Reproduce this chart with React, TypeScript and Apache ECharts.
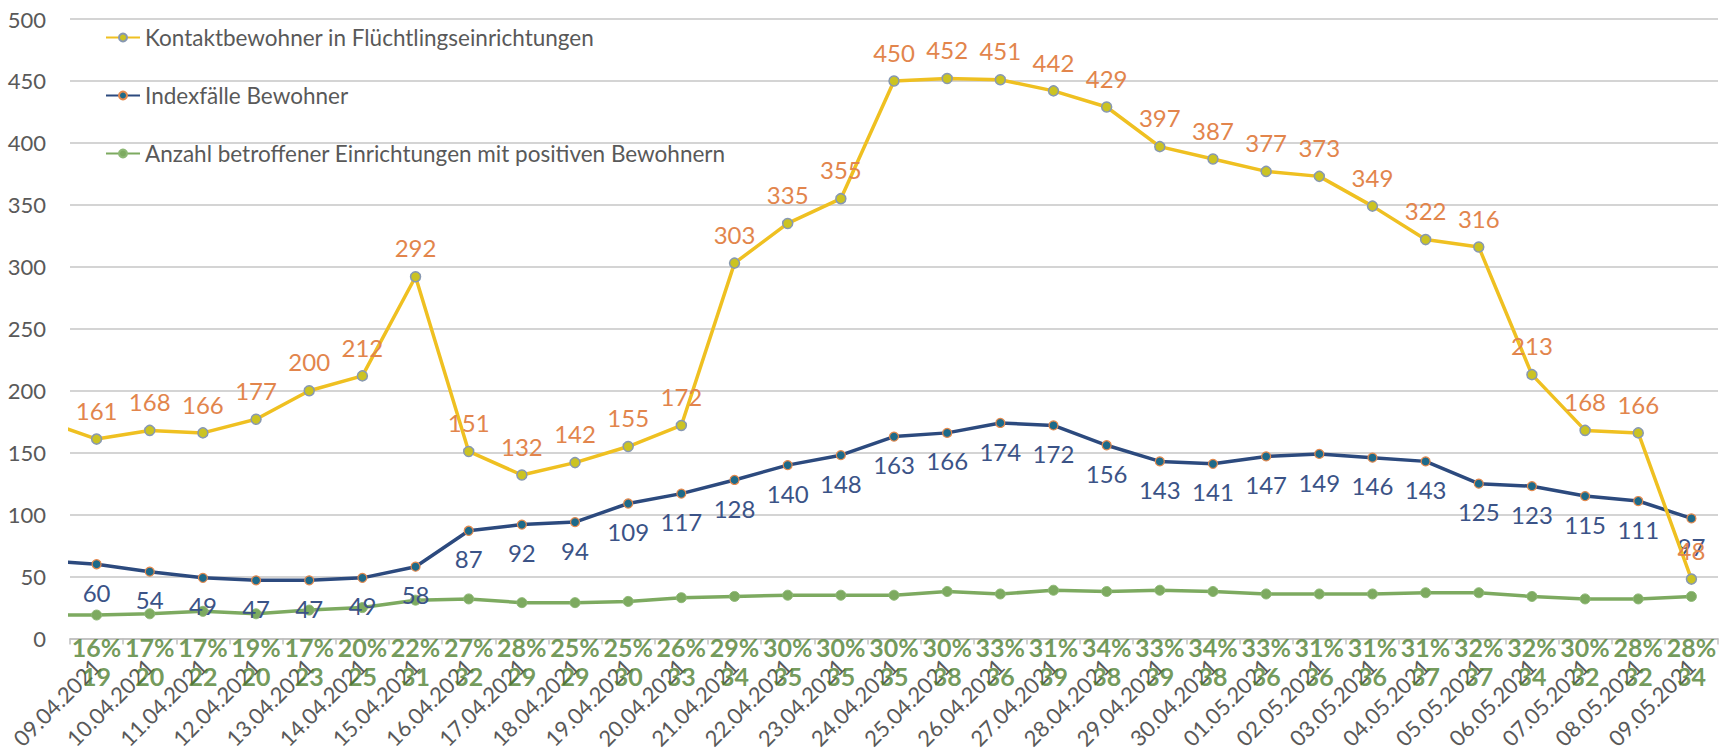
import React, { useEffect, useRef } from "react";
import * as echarts from "echarts";

const dates = [
  "09.04.2021", "10.04.2021", "11.04.2021", "12.04.2021", "13.04.2021", "14.04.2021",
  "15.04.2021", "16.04.2021", "17.04.2021", "18.04.2021", "19.04.2021", "20.04.2021",
  "21.04.2021", "22.04.2021", "23.04.2021", "24.04.2021", "25.04.2021", "26.04.2021",
  "27.04.2021", "28.04.2021", "29.04.2021", "30.04.2021", "01.05.2021", "02.05.2021",
  "03.05.2021", "04.05.2021", "05.05.2021", "06.05.2021", "07.05.2021", "08.05.2021",
  "09.05.2021",
];

const kontakt = [161, 168, 166, 177, 200, 212, 292, 151, 132, 142, 155, 172, 303, 335, 355, 450, 452, 451, 442, 429, 397, 387, 377, 373, 349, 322, 316, 213, 168, 166, 48];
const indexfaelle = [60, 54, 49, 47, 47, 49, 58, 87, 92, 94, 109, 117, 128, 140, 148, 163, 166, 174, 172, 156, 143, 141, 147, 149, 146, 143, 125, 123, 115, 111, 97];
const einrichtungen = [19, 20, 22, 20, 23, 25, 31, 32, 29, 29, 30, 33, 34, 35, 35, 35, 38, 36, 39, 38, 39, 38, 36, 36, 36, 37, 37, 34, 32, 32, 34];
const prozent = [16, 17, 17, 19, 17, 20, 22, 27, 28, 25, 25, 26, 29, 30, 30, 30, 30, 33, 31, 34, 33, 34, 33, 31, 31, 31, 32, 32, 30, 28, 28];

// values of the day before the first shown date (08.04.2021), cut off by the axis
const kontaktPrev = 176;
const indexPrev = 63;
const einrPrev = 19;

const yTicks = { min: 0, max: 500, interval: 50 };

const seriesNames = [
  "Kontaktbewohner in Flüchtlingseinrichtungen",
  "Indexfälle Bewohner",
  "Anzahl betroffener Einrichtungen mit positiven Bewohnern",
];

const FONT = "Lato";
const GREEN_TEXT = "#4F7F30";

function withLead(prev: number, vals: number[]) {
  const out: any[] = [{ value: [-1, prev], symbol: "none", label: { show: false } }];
  vals.forEach((v, i) => out.push([i, v]));
  return out;
}

export default function App() {
  const ref = useRef<HTMLDivElement>(null);
  useEffect(() => {
    if (!ref.current) return;
    const chart = echarts.init(ref.current, null, { renderer: "svg" });
    chart.setOption({
      animation: false,
      backgroundColor: "#ffffff",
      textStyle: { fontFamily: FONT },
      grid: { left: 70, right: 5, top: 19, bottom: 109, containLabel: false },
      legend: {
        orient: "vertical",
        left: 100,
        top: 21,
        itemGap: 35,
        itemWidth: 34,
        itemHeight: 10,
        textStyle: { fontFamily: FONT, fontSize: 22.5, color: "#595959" },
        data: seriesNames,
      },
      xAxis: [
        {
          type: "category",
          data: dates,
          boundaryGap: true,
          z: 0,
          axisLine: { show: true, lineStyle: { color: "#BFBFBF", width: 1.5 } },
          axisTick: { show: true, length: 6, lineStyle: { color: "#BFBFBF", width: 1.5 } },
          axisLabel: {
            interval: 0,
            rotate: 45,
            margin: 24,
            color: "#595959",
            fontSize: 22,
            fontFamily: FONT,
          },
          splitLine: { show: false },
        },
        {
          type: "value",
          min: -0.5,
          max: 30.5,
          show: false,
          splitLine: { show: false },
        },
      ],
      yAxis: {
        type: "value",
        min: yTicks.min,
        max: yTicks.max,
        interval: yTicks.interval,
        axisLine: { show: false },
        axisTick: { show: false },
        axisLabel: { color: "#595959", fontSize: 22, fontFamily: FONT, margin: 24 },
        splitLine: { lineStyle: { color: "#C6C6C6", width: 1.5 } },
      },
      series: [
        {
          name: seriesNames[0],
          type: "line",
          xAxisIndex: 1,
          z: 5,
          data: withLead(kontaktPrev, kontakt),
          symbol: "circle",
          symbolSize: 10,
          clip: true,
          lineStyle: { color: "#EFC021", width: 3.5 },
          itemStyle: { color: "#CBC322", borderColor: "#8798B2", borderWidth: 1.5 },
          label: {
            show: true,
            position: "top",
            distance: 11,
            color: "#E2854C",
            fontSize: 24,
            fontFamily: FONT,
            formatter: (p: any) => String(p.value[1]),
          },
        },
        {
          name: seriesNames[1],
          type: "line",
          xAxisIndex: 1,
          z: 4,
          data: withLead(indexPrev, indexfaelle),
          symbol: "circle",
          symbolSize: 9,
          clip: true,
          lineStyle: { color: "#2C4A7E", width: 3.5 },
          itemStyle: { color: "#1D6A8A", borderColor: "#E3894E", borderWidth: 1.2 },
          label: {
            show: true,
            position: "bottom",
            distance: 11,
            color: "#3B5387",
            fontSize: 24,
            fontFamily: FONT,
            formatter: (p: any) => String(p.value[1]),
          },
        },
        {
          name: seriesNames[2],
          type: "line",
          xAxisIndex: 1,
          z: 3,
          data: withLead(einrPrev, einrichtungen),
          symbol: "circle",
          symbolSize: 10,
          clip: true,
          lineStyle: { color: "#7DAA60", width: 3.5 },
          itemStyle: { color: "#7DAA60", borderColor: "#8DB874", borderWidth: 1 },
          label: { show: false },
        },
        {
          name: "prozent",
          type: "scatter",
          xAxisIndex: 0,
          z: 10,
          clip: false,
          silent: true,
          symbolSize: 1,
          itemStyle: { color: "rgba(0,0,0,0)" },
          data: prozent.map(() => 0),
          label: {
            show: true,
            position: "inside",
            offset: [0, 8],
            color: GREEN_TEXT,
            fontWeight: "bold",
            fontSize: 25,
            fontFamily: FONT,
            formatter: (p: any) => prozent[p.dataIndex] + "%",
          },
        },
        {
          name: "anzahl",
          type: "scatter",
          xAxisIndex: 0,
          z: 10,
          clip: false,
          silent: true,
          symbolSize: 1,
          itemStyle: { color: "rgba(0,0,0,0)" },
          data: einrichtungen.map(() => 0),
          label: {
            show: true,
            position: "inside",
            offset: [0, 37],
            color: GREEN_TEXT,
            fontWeight: "bold",
            fontSize: 25,
            fontFamily: FONT,
            formatter: (p: any) => String(einrichtungen[p.dataIndex]),
          },
        },
      ],
    });
    return () => chart.dispose();
  }, []);
  return (
    <div
      ref={ref}
      style={{ position: "fixed", left: 0, top: 0, width: 1723, height: 752, background: "#fff" }}
    />
  );
}
